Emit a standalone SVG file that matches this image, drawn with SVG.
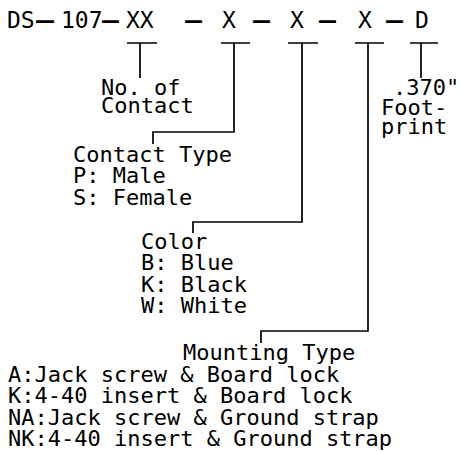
<svg xmlns="http://www.w3.org/2000/svg" width="462" height="451" viewBox="0 0 462 451">
<style>
text{font-family:"DejaVu Sans Mono","Liberation Mono",monospace;font-size:22px;fill:#000}
.t{font-size:23px}
.m{text-anchor:middle}
.d{font-size:23px;font-weight:bold}
.c{fill:none;stroke:#000;stroke-width:1.7}
</style>
<rect width="462" height="451" fill="#fff"/>
<g id="part-number">
<text class="t" x="7" y="28">DS</text>
<text class="d" x="36" y="28" textLength="18" lengthAdjust="spacingAndGlyphs">—</text>
<text class="t" x="61" y="28">107</text>
<text class="d" x="102" y="28" textLength="17" lengthAdjust="spacingAndGlyphs">—</text>
<text class="t" x="126" y="28">XX</text>
<text class="d" x="185" y="28" textLength="17" lengthAdjust="spacingAndGlyphs">—</text>
<text class="t m" x="229" y="28">X</text>
<text class="d" x="253" y="28" textLength="17" lengthAdjust="spacingAndGlyphs">—</text>
<text class="t m" x="297" y="28">X</text>
<text class="d" x="319" y="28" textLength="17" lengthAdjust="spacingAndGlyphs">—</text>
<text class="t m" x="365" y="28">X</text>
<text class="d" x="386" y="28" textLength="17" lengthAdjust="spacingAndGlyphs">—</text>
<text class="t m" x="422" y="28">D</text>
</g>
<g id="connectors">
<path class="c" d="M127,43H157M140,43V78"/>
<path class="c" d="M221,43H250M234,43V132H153V144"/>
<path class="c" d="M288,43H318M302,43V222H193V233"/>
<path class="c" d="M355,43H384M368,43V331H261V343"/>
<path class="c" d="M410,43H438M421,43V78"/>
</g>
<g id="no-of-contact">
<text x="101" y="95">No. of</text>
<text x="101" y="113">Contact</text>
</g>
<g id="contact-type">
<text x="73" y="162">Contact Type</text>
<text x="73" y="183">P: Male</text>
<text x="73" y="205">S: Female</text>
</g>
<g id="color">
<text x="141" y="249">Color</text>
<text x="141" y="270">B: Blue</text>
<text x="141" y="292">K: Black</text>
<text x="141" y="313">W: White</text>
</g>
<g id="mounting-type">
<text x="183" y="360">Mounting Type</text>
<text x="8" y="382">A:Jack screw &amp; Board lock</text>
<text x="8" y="403">K:4-40 insert &amp; Board lock</text>
<text x="8" y="425">NA:Jack screw &amp; Ground strap</text>
<text x="8" y="446">NK:4-40 insert &amp; Ground strap</text>
</g>
<g id="footprint">
<text x="393" y="95">.370"</text>
<text x="381" y="115">Foot-</text>
<text x="381" y="134">print</text>
</g>
</svg>
